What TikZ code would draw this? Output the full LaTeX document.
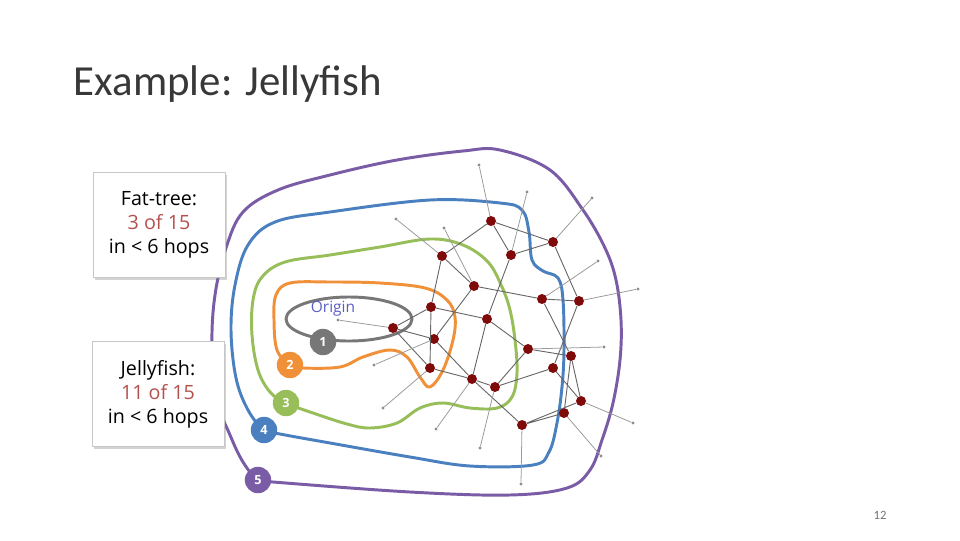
\documentclass[tikz,border=0pt]{standalone}
\usepackage{fontspec}
\setmainfont{Carlito}
\newfontfamily\boxfont{Open Sans}
\usetikzlibrary{shadows}
\definecolor{hopgray}{HTML}{777777}
\definecolor{hoporange}{HTML}{F0913A}
\definecolor{hopgreen}{HTML}{98BE5A}
\definecolor{hopblue}{HTML}{4A80BF}
\definecolor{hoppurple}{HTML}{7A5BA5}
\definecolor{routerred}{HTML}{7F0A0A}
\definecolor{countred}{HTML}{B5514E}
\definecolor{originblue}{HTML}{5A5CC4}

\begin{document}
\begin{tikzpicture}[x=0.25mm,y=-0.25mm,
  router/.style={circle,fill=routerred,inner sep=0pt,minimum size=2.5mm},
  host/.style={circle,fill=black!45,inner sep=0pt,minimum size=0.8mm},
  link/.style={draw=black!60,line width=0.65pt},
  stub/.style={draw=black!40,line width=0.55pt},
  ring/.style={line width=2.1pt,line join=round},
  hop/.style={circle,fill=#1,text=white,inner sep=0pt,minimum size=6.6mm,
              font=\boxfont\bfseries\small},
  infobox/.style={draw=black!22,fill=white,minimum width=33mm,minimum height=26.3mm,
                  align=center,font=\boxfont\fontsize{14}{17}\selectfont,
                  drop shadow={shadow xshift=1.5pt,shadow yshift=-2pt,opacity=0.35}}
]
\useasboundingbox (0,0) rectangle (960,540);

\node[anchor=base west,font=\fontsize{30.5}{36}\selectfont,text=black!78] (title)
  at (69,95) {Example: Jellyfish};

% hop rings
\draw[ring,draw=hoppurple] plot[smooth cycle,tension=0.6] coordinates {
  (258,480) (273,482) (410,492) (510,495) (567,488) (590,470) (602,440) (613,403)
  (620,360) (621,320) (616,280) (605,248) (583,210) (550,170) (500,150) (463,151)
  (397,160) (330,175) (278,190) (243,212) (226,248) (215,295) (212,345) (217,400)
  (230,435) (243,462)};
\draw[ring,draw=hopblue] plot[smooth cycle,tension=0.6] coordinates {
  (264,430) (280,434) (330,443) (410,457) (470,466) (533,465) (549,452) (557,423)
  (562,387) (564,350) (563,300) (558,278) (543,271) (532,260) (529,232) (522,210)
  (500,203) (430,200) (330,212) (275,222) (248,245) (235,285) (231,330) (236,378)
  (248,410)};
\draw[ring,draw=hopgreen] plot[smooth cycle,tension=0.6] coordinates {
  (286,403) (313,413) (347,424) (370,428) (397,423) (420,408) (443,403) (470,408)
  (497,408) (512,397) (517,373) (515,340) (510,310) (502,287) (488,262) (463,245)
  (430,239) (380,247) (330,255) (285,262) (262,277) (253,300) (252,335) (258,370)
  (270,392)};
\draw[ring,draw=hoporange] plot[smooth cycle,tension=0.6] coordinates {
  (290,365) (303,368) (340,367) (363,357) (390,350) (407,357) (420,377) (430,387)
  (443,370) (453,340) (455,317) (447,300) (425,288) (380,283) (330,282) (290,283)
  (276,295) (274,320) (277,350)};
\draw[ring,draw=hopgray] (349,319) ellipse [x radius=63,y radius=22];

% switches
\node[router] (ra) at (491,221) {};
\node[router] (rb) at (442,256) {};
\node[router] (rc) at (511,255) {};
\node[router] (rd) at (553,242) {};
\node[router] (re) at (474,286) {};
\node[router] (rf) at (431,307) {};
\node[router] (rg) at (487,319) {};
\node[router] (rh) at (542,299) {};
\node[router] (ri) at (579,301) {};
\node[router] (rj) at (393,328) {};
\node[router] (rk) at (434,339) {};
\node[router] (rl) at (528,349) {};
\node[router] (rm) at (571,356) {};
\node[router] (rn) at (553,368) {};
\node[router] (ro) at (430,368) {};
\node[router] (rp) at (472,379) {};
\node[router] (rq) at (495,387) {};
\node[router] (rr) at (581,401) {};
\node[router] (rs) at (564,413) {};
\node[router] (rt) at (522,425) {};

% servers
\node[host] (ha) at (479,165) {};
\node[host] (hb) at (527,192) {};
\node[host] (hc) at (592,198) {};
\node[host] (hd) at (396,219) {};
\node[host] (he) at (444,228) {};
\node[host] (hf) at (598,261) {};
\node[host] (hg) at (638,289) {};
\node[host] (hh) at (338,320) {};
\node[host] (hi) at (374,365) {};
\node[host] (hj) at (383,408) {};
\node[host] (hk) at (436,429) {};
\node[host] (hl) at (480,448) {};
\node[host] (hm) at (604,347) {};
\node[host] (hn) at (633,423) {};
\node[host] (ho) at (601,456) {};
\node[host] (hp) at (521,484) {};

\draw[link] (ra)--(rb) (ra)--(rc) (ra)--(rd) (rb)--(re) (rb)--(rf)
  (rc)--(rd) (rc)--(rg) (rd)--(ri) (re)--(rh) (re)--(rk)
  (rf)--(rj) (rf)--(rg) (rf)--(ro) (rg)--(rl) (rg)--(rp)
  (rh)--(ri) (rh)--(rm) (ri)--(rn) (rj)--(rk) (rj)--(ro)
  (rk)--(rp) (rl)--(rm) (rl)--(rq) (rm)--(rr) (rm)--(rs)
  (rn)--(rq) (rn)--(rr) (ro)--(rp) (rp)--(rq) (rp)--(rt)
  (rr)--(rt) (rs)--(rt);
\draw[stub] (ha)--(ra) (hb)--(rc) (hc)--(rd) (hd)--(rb) (he)--(re)
  (hf)--(rh) (hg)--(ri) (hh)--(rj) (hi)--(rk) (hj)--(ro)
  (hk)--(rp) (hl)--(rq) (hm)--(rl) (hn)--(rr) (ho)--(rs) (hp)--(rt);

% labels
\node[font=\boxfont\fontsize{11}{13}\selectfont,text=originblue] (origin)
  at (333,309) {Origin};
\node[hop=hopgray] (one) at (323,342) {1};
\node[hop=hoporange] (two) at (290,365) {2};
\node[hop=hopgreen] (three) at (286,403) {3};
\node[hop=hopblue] (four) at (264,430) {4};
\node[hop=hoppurple] (five) at (258,480) {5};

\node[infobox] (fattree) at (159,225)
  {Fat-tree:\\\textcolor{countred}{3 of 15}\\in < 6 hops};
\node[infobox] (jelly) at (158,394)
  {Jellyfish:\\\textcolor{countred}{11 of 15}\\in < 6 hops};

\node[anchor=base,font=\fontsize{9}{11}\selectfont,text=black!55] (page)
  at (880,519) {12};
\end{tikzpicture}
\end{document}
